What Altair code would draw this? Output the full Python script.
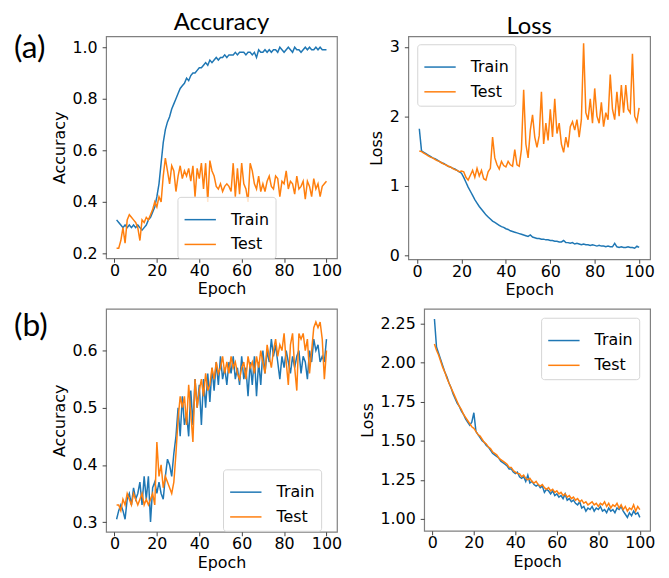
import altair as alt
import pandas as pd

epochs = list(range(1, 101))

acc_a_train = [0.33, 0.32, 0.31, 0.30, 0.31, 0.30, 0.31, 0.30, 0.31, 0.30,
               0.31, 0.30, 0.29, 0.30, 0.31, 0.33, 0.34, 0.36, 0.38, 0.42,
               0.47, 0.55, 0.63, 0.68, 0.71, 0.73, 0.76, 0.78, 0.80, 0.82,
               0.84, 0.85, 0.86, 0.88, 0.87, 0.89, 0.90, 0.90, 0.91, 0.92,
               0.92, 0.93, 0.94, 0.93, 0.95, 0.94, 0.95, 0.96, 0.95, 0.96,
               0.96, 0.97, 0.96, 0.97, 0.97, 0.97, 0.98, 0.97, 0.98, 0.98,
               0.98, 0.97, 0.98, 0.98, 0.97, 0.98, 0.96, 0.99, 0.98, 0.98,
               0.99, 0.98, 0.99, 0.98, 0.99, 0.99, 0.98, 1.00, 0.99, 0.98,
               0.99, 1.00, 0.99, 0.98, 1.00, 0.99, 0.99, 0.98, 0.99, 1.00,
               0.99, 1.00, 0.99, 0.99, 1.00, 0.99, 1.00, 0.99, 0.99, 0.99]
acc_a_test = [0.22, 0.22, 0.25, 0.30, 0.24, 0.33, 0.35, 0.34, 0.33, 0.32,
              0.30, 0.25, 0.33, 0.32, 0.34, 0.33, 0.35, 0.37, 0.40, 0.38,
              0.42, 0.40, 0.50, 0.57, 0.52, 0.47, 0.54, 0.52, 0.44, 0.50,
              0.54, 0.49, 0.52, 0.50, 0.53, 0.48, 0.54, 0.42, 0.53, 0.49,
              0.55, 0.45, 0.55, 0.40, 0.56, 0.52, 0.50, 0.46, 0.45, 0.47,
              0.44, 0.46, 0.47, 0.46, 0.44, 0.55, 0.42, 0.53, 0.43, 0.55,
              0.47, 0.45, 0.40, 0.55, 0.52, 0.47, 0.45, 0.50, 0.44, 0.47,
              0.44, 0.48, 0.50, 0.46, 0.45, 0.50, 0.49, 0.42, 0.48, 0.47,
              0.52, 0.45, 0.48, 0.47, 0.43, 0.50, 0.45, 0.46, 0.48, 0.41,
              0.48, 0.46, 0.42, 0.49, 0.45, 0.47, 0.42, 0.46, 0.47, 0.48]
loss_a_train = [1.82, 1.50, 1.48, 1.46, 1.44, 1.42, 1.40, 1.39, 1.37, 1.35,
                1.33, 1.32, 1.30, 1.28, 1.27, 1.25, 1.24, 1.22, 1.20, 1.18,
                1.12, 1.05, 0.98, 0.92, 0.86, 0.80, 0.75, 0.70, 0.66, 0.62,
                0.58, 0.55, 0.52, 0.49, 0.47, 0.45, 0.43, 0.41, 0.40, 0.38,
                0.37, 0.35, 0.34, 0.33, 0.32, 0.31, 0.30, 0.29, 0.28, 0.27,
                0.29, 0.26, 0.25, 0.24, 0.24, 0.23, 0.23, 0.22, 0.22, 0.21,
                0.21, 0.20, 0.20, 0.19, 0.19, 0.21, 0.18, 0.18, 0.17, 0.18,
                0.16, 0.17, 0.16, 0.15, 0.16, 0.15, 0.15, 0.14, 0.15, 0.14,
                0.13, 0.14, 0.13, 0.13, 0.12, 0.13, 0.12, 0.12, 0.17, 0.12,
                0.11, 0.12, 0.11, 0.11, 0.12, 0.11, 0.11, 0.10, 0.13, 0.11]
loss_a_test = [1.50, 1.49, 1.47, 1.45, 1.43, 1.41, 1.40, 1.38, 1.36, 1.35,
               1.33, 1.31, 1.30, 1.28, 1.27, 1.25, 1.23, 1.22, 1.20, 1.21,
               1.20, 1.12, 1.08, 1.15, 1.22, 1.12, 1.25, 1.14, 1.22, 1.10,
               1.08, 1.20, 1.25, 1.70, 1.40, 1.30, 1.24, 1.35, 1.29, 1.27,
               1.35, 1.30, 1.28, 1.52, 1.30, 1.28, 1.52, 2.38, 1.60, 1.40,
               1.80, 2.02, 1.70, 1.55, 1.72, 2.35, 1.60, 1.90, 1.65, 2.10,
               1.70, 2.25, 1.75, 1.90, 1.60, 1.48, 1.70, 1.55, 1.85, 1.92,
               1.80, 1.95, 1.70, 1.95, 3.05, 2.05, 1.95, 2.25, 1.90, 2.40,
               2.00, 1.90, 2.20, 1.85, 2.05, 1.95, 2.60, 2.10, 1.95, 2.35,
               2.00, 2.45, 2.05, 2.45, 2.10, 2.05, 2.90, 2.00, 1.92, 2.12]
acc_b_train = [0.305, 0.32, 0.33, 0.32, 0.305, 0.34, 0.35, 0.33, 0.36, 0.34,
               0.35, 0.37, 0.33, 0.38, 0.34, 0.38, 0.30, 0.36, 0.37, 0.35,
               0.37, 0.35, 0.34, 0.38, 0.41, 0.40, 0.38, 0.42, 0.45, 0.50,
               0.45, 0.52, 0.47, 0.49, 0.45, 0.53, 0.47, 0.55, 0.50, 0.54,
               0.47, 0.55, 0.50, 0.56, 0.51, 0.57, 0.53, 0.58, 0.54, 0.59,
               0.55, 0.57, 0.54, 0.58, 0.56, 0.59, 0.55, 0.57, 0.54, 0.59,
               0.55, 0.57, 0.52, 0.58, 0.54, 0.59, 0.52, 0.58, 0.54, 0.60,
               0.56, 0.60, 0.58, 0.62, 0.59, 0.61, 0.58, 0.55, 0.59, 0.57,
               0.60, 0.58, 0.56, 0.59, 0.57, 0.59, 0.60, 0.56, 0.59, 0.58,
               0.55, 0.60, 0.58, 0.62, 0.60, 0.61, 0.58, 0.59, 0.58, 0.62]
acc_b_test = [0.33, 0.33, 0.32, 0.34, 0.33, 0.35, 0.34, 0.33, 0.35, 0.34,
              0.33, 0.34, 0.35, 0.33, 0.34, 0.33, 0.34, 0.35, 0.33, 0.44,
              0.38, 0.40, 0.36, 0.38, 0.37, 0.36, 0.35, 0.37, 0.42, 0.48,
              0.52, 0.50, 0.52, 0.47, 0.54, 0.49, 0.44, 0.55, 0.50, 0.53,
              0.55, 0.52, 0.56, 0.53, 0.54, 0.57, 0.55, 0.58, 0.56, 0.57,
              0.59, 0.56, 0.58, 0.56, 0.59, 0.57, 0.58, 0.56, 0.55, 0.57,
              0.58, 0.55, 0.59, 0.57, 0.58, 0.56, 0.59, 0.57, 0.60, 0.58,
              0.56, 0.61, 0.59, 0.57, 0.60, 0.62, 0.59, 0.61, 0.60, 0.63,
              0.58, 0.54, 0.61, 0.63, 0.57, 0.53, 0.63, 0.62, 0.63, 0.60,
              0.62, 0.56, 0.60, 0.64, 0.65, 0.64, 0.65, 0.62, 0.55, 0.60]
loss_b_train = [2.28, 2.10, 2.06, 2.02, 1.98, 1.94, 1.91, 1.87, 1.84, 1.80,
                1.77, 1.74, 1.72, 1.69, 1.67, 1.64, 1.62, 1.60, 1.62, 1.68,
                1.56, 1.54, 1.52, 1.50, 1.49, 1.47, 1.46, 1.44, 1.42, 1.41,
                1.40, 1.39, 1.37, 1.36, 1.35, 1.34, 1.32, 1.32, 1.30, 1.29,
                1.30, 1.27, 1.26, 1.27, 1.24, 1.28, 1.23, 1.24, 1.22, 1.21,
                1.22, 1.20, 1.21, 1.17, 1.19, 1.18, 1.16, 1.18, 1.15, 1.16,
                1.14, 1.15, 1.13, 1.16, 1.12, 1.13, 1.11, 1.12, 1.10, 1.09,
                1.11, 1.07, 1.08, 1.05, 1.07, 1.06, 1.08, 1.05, 1.07, 1.06,
                1.08, 1.05, 1.06, 1.04, 1.07, 1.05, 1.06, 1.04, 1.07, 1.06,
                1.08, 1.05, 1.03, 1.01, 1.04, 1.02, 1.05, 1.03, 1.04, 1.01]
loss_b_test = [2.12, 2.08, 2.05, 2.01, 1.97, 1.94, 1.90, 1.87, 1.84, 1.81,
               1.78, 1.75, 1.72, 1.70, 1.67, 1.65, 1.63, 1.61, 1.59, 1.58,
               1.56, 1.54, 1.53, 1.51, 1.49, 1.48, 1.46, 1.45, 1.43, 1.42,
               1.41, 1.39, 1.38, 1.37, 1.36, 1.35, 1.33, 1.33, 1.31, 1.30,
               1.29, 1.29, 1.27, 1.28, 1.26, 1.25, 1.26, 1.24, 1.23, 1.24,
               1.22, 1.21, 1.22, 1.20, 1.19, 1.20, 1.18, 1.19, 1.17, 1.18,
               1.16, 1.17, 1.15, 1.16, 1.14, 1.15, 1.13, 1.14, 1.12, 1.13,
               1.11, 1.12, 1.10, 1.11, 1.09, 1.10, 1.11, 1.09, 1.10, 1.08,
               1.10, 1.09, 1.11, 1.08, 1.10, 1.07, 1.09, 1.08, 1.10, 1.07,
               1.09, 1.06, 1.08, 1.05, 1.07, 1.06, 1.09, 1.05, 1.08, 1.06]

series_names = ["Train", "Test"]
BLUE = "#1f77b4"
ORANGE = "#ff7f0e"

AXIS_STYLE = dict(
    labelFont="DejaVu Sans", labelFontSize=16, labelColor="black",
    titleFont="DejaVu Sans", titleFontSize=16, titleFontWeight="normal",
    titleColor="black", tickColor="#444", tickSize=4, domain=False,
    grid=False,
)


def panel(train, test, ytitle, ydomain, yticks, yfmt, w, h, lx, ly,
          title=None, label=None, label_y=-3):
    df = pd.DataFrame({
        "Epoch": epochs + epochs,
        "value": train + test,
        "series": ["Train"] * len(train) + ["Test"] * len(test),
    })
    lines = alt.Chart(df).mark_line(strokeWidth=1.5, clip=True).encode(
        x=alt.X("Epoch:Q",
                scale=alt.Scale(domain=[-3.95, 104.95], nice=False, zero=False),
                axis=alt.Axis(values=[0, 20, 40, 60, 80, 100], title="Epoch",
                              labelPadding=0, titlePadding=3, **AXIS_STYLE)),
        y=alt.Y("value:Q",
                scale=alt.Scale(domain=ydomain, nice=False, zero=False),
                axis=alt.Axis(values=yticks, format=yfmt, title=ytitle,
                              labelPadding=5, titlePadding=5, **AXIS_STYLE)),
        color=alt.Color("series:N",
                        scale=alt.Scale(domain=series_names, range=[BLUE, ORANGE]),
                        sort=series_names,
                        legend=alt.Legend(
                            title=None, orient="none", legendX=lx, legendY=ly,
                            symbolType="stroke", symbolSize=1000,
                            symbolStrokeWidth=1.5,
                            labelFont="DejaVu Sans", labelFontSize=16,
                            labelColor="black", labelOffset=14,
                            fillColor="rgba(255,255,255,0.8)",
                            strokeColor="#d5d5d5", cornerRadius=3,
                            padding=6, rowPadding=-15)),
    )
    layers = [lines]
    if label is not None:
        lab = alt.Chart(pd.DataFrame({"t": [label]})).mark_text(
            font="Lato", fontSize=32, align="left", baseline="top",
            color="black").encode(
            text="t:N", x=alt.value(-93), y=alt.value(label_y))
        layers.append(lab)
    ch = alt.layer(*layers).properties(width=w, height=h)
    if title is not None:
        ch = ch.properties(title=alt.TitleParams(
            text=title, font="Lato", fontSize=24, fontWeight="normal",
            color="black", offset=-3))
    return ch


tl = panel(acc_a_train, acc_a_test, "Accuracy", [0.181, 1.042],
           [0.2, 0.4, 0.6, 0.8, 1.0], ".1f", 233, 224, 72, 162,
           title="Accuracy", label="(a)", label_y=-3)
tr = panel(loss_a_train, loss_a_test, "Loss", [-0.06, 3.15],
           [0, 1, 2, 3], "d", 244, 225, 9, 8, title="Loss")
bl = panel(acc_b_train, acc_b_test, "Accuracy", [0.283, 0.673],
           [0.3, 0.4, 0.5, 0.6], ".1f", 233, 225, 118, 162, label="(b)",
           label_y=2)
br = panel(loss_b_train, loss_b_test, "Loss", [0.924, 2.345],
           [1.0, 1.25, 1.5, 1.75, 2.0, 2.25], ".2f", 228, 224, 118, 9)

top = alt.hconcat(tl, tr, spacing=25).resolve_scale(color="independent").resolve_legend(color="independent")
bottom = alt.hconcat(bl, br, spacing=15).resolve_scale(color="independent").resolve_legend(color="independent")

chart = alt.vconcat(top, bottom, spacing=9, background="white",
                    padding={"top": 0, "left": 5, "right": 5, "bottom": 0}
                    ).resolve_scale(color="independent").resolve_legend(
    color="independent").configure_view(stroke="#808080", strokeWidth=1.2)

chart.save("out.html", embed_options={"renderer": "svg", "actions": False})
